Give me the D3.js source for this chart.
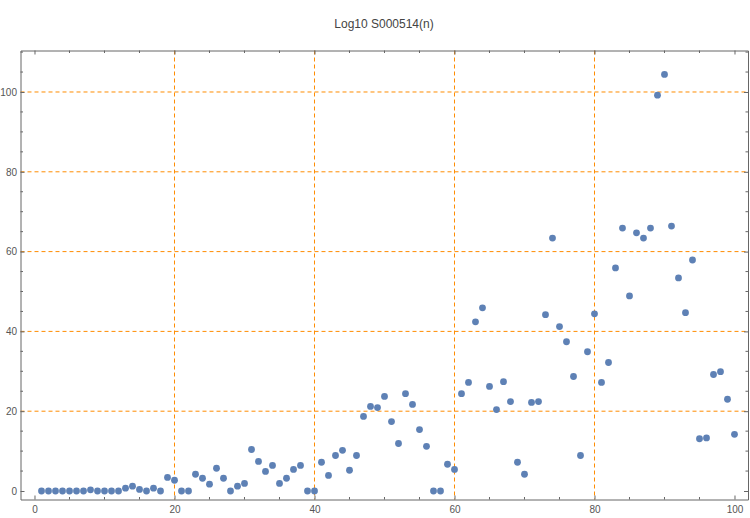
<!DOCTYPE html>
<html><head><meta charset="utf-8">
<script src="https://cdn.jsdelivr.net/npm/d3@7"></script>
<style>body{margin:0;background:#fff}svg{display:block}</style>
</head><body>
<script>
const title = "Log10 S000514(n)";
const nValues = d3.range(1, 101);
const logValues = [
  0,0,0,0,0,0,0,0.3,0,0,
  0,0,0.7,1.2,0.4,0,0.7,0,3.4,2.7,
  0,0,4.2,3.2,1.7,5.7,3.2,0,1.2,1.9,
  10.4,7.4,4.9,6.4,1.9,3.2,5.4,6.4,0,0,
  7.2,3.9,8.9,10.2,5.2,8.9,18.7,21.2,20.9,23.7,
  17.4,11.9,24.4,21.7,15.4,11.2,0,0,6.7,5.4,
  24.4,27.2,42.4,45.9,26.2,20.4,27.4,22.4,7.2,4.2,
  22.2,22.4,44.2,63.4,41.2,37.4,28.7,8.9,34.9,44.4,
  27.2,32.2,55.9,65.9,48.9,64.7,63.4,65.9,99.2,104.4,
  66.4,53.4,44.7,57.9,13.1,13.3,29.2,29.9,23.0,14.2
];
const xMajor = [0,20,40,60,80,100];
const yMajor = [0,20,40,60,80,100];
const xGrid = [20,40,60,80];
const yGrid = [20,40,60,80,100];

(function draw() {
const W = 750, H = 518;
const L = 20.5, R = 748, T = 50.5, B = 499.5;
const svg = d3.select("body").append("svg").attr("width", W).attr("height", H);
const x = d3.scaleLinear().domain([-2, 101.93]).range([L, R]);
const y = d3.scaleLinear().domain([-2.13, 110.4]).range([B, T]);

const frameColor = "#666";
const labelColor = "#555";
const gridColor = "#ff8c00";

svg.append("g").selectAll("line").data(xGrid).join("line")
  .attr("x1", d => x(d)).attr("x2", d => x(d)).attr("y1", T).attr("y2", B)
  .attr("stroke", gridColor).attr("stroke-width", 1).attr("stroke-dasharray", "4,3");
svg.append("g").selectAll("line").data(yGrid).join("line")
  .attr("y1", d => y(d)).attr("y2", d => y(d)).attr("x1", L).attr("x2", R)
  .attr("stroke", gridColor).attr("stroke-width", 1).attr("stroke-dasharray", "4,3");

const xMinor = d3.range(0, 102, 5).filter(v => !xMajor.includes(v));
const yMinor = d3.range(0, 111, 5).filter(v => !yMajor.includes(v));

function styleAxis(g) {
  g.select(".domain").attr("stroke", frameColor);
  g.selectAll(".tick line").attr("stroke", frameColor);
  g.selectAll(".tick text").attr("fill", labelColor).style("font-family", "Liberation Sans, Arial, sans-serif").style("font-size", "10px");
}
const gBottom = svg.append("g").attr("transform", `translate(0,${B})`)
  .call(d3.axisBottom(x).tickValues(xMajor).tickSizeInner(-4).tickSizeOuter(0).tickPadding(6));
styleAxis(gBottom);
gBottom.append("g").selectAll("line").data(xMinor).join("line")
  .attr("x1", d => x(d)).attr("x2", d => x(d)).attr("y1", 0).attr("y2", -2.5).attr("stroke", frameColor);

const gTop = svg.append("g").attr("transform", `translate(0,${T})`)
  .call(d3.axisTop(x).tickValues(xMajor).tickSizeInner(-4).tickSizeOuter(0).tickFormat(""));
styleAxis(gTop);
gTop.append("g").selectAll("line").data(xMinor).join("line")
  .attr("x1", d => x(d)).attr("x2", d => x(d)).attr("y1", 0).attr("y2", 2.5).attr("stroke", frameColor);

const gLeft = svg.append("g").attr("transform", `translate(${L},0)`)
  .call(d3.axisLeft(y).tickValues(yMajor).tickSizeInner(-4).tickSizeOuter(0).tickPadding(3.5));
styleAxis(gLeft);
gLeft.append("g").selectAll("line").data(yMinor).join("line")
  .attr("y1", d => y(d)).attr("y2", d => y(d)).attr("x1", 0).attr("x2", 2.5).attr("stroke", frameColor);

const gRight = svg.append("g").attr("transform", `translate(${R},0)`)
  .call(d3.axisRight(y).tickValues(yMajor).tickSizeInner(-4).tickSizeOuter(0).tickFormat(""));
styleAxis(gRight);
gRight.append("g").selectAll("line").data(yMinor).join("line")
  .attr("y1", d => y(d)).attr("y2", d => y(d)).attr("x1", 0).attr("x2", -2.5).attr("stroke", frameColor);

svg.append("g").selectAll("circle").data(nValues.map((n, i) => [n, logValues[i]])).join("circle")
  .attr("cx", d => x(d[0])).attr("cy", d => y(d[1])).attr("r", 3.4)
  .attr("fill", "#5e81b5");

svg.append("text").attr("x", 384).attr("y", 28).attr("text-anchor", "middle")
  .attr("fill", "#444").style("font-family", "Liberation Sans, Arial, sans-serif").style("font-size", "12px")
  .text(title);
})();
</script>
</body></html>
